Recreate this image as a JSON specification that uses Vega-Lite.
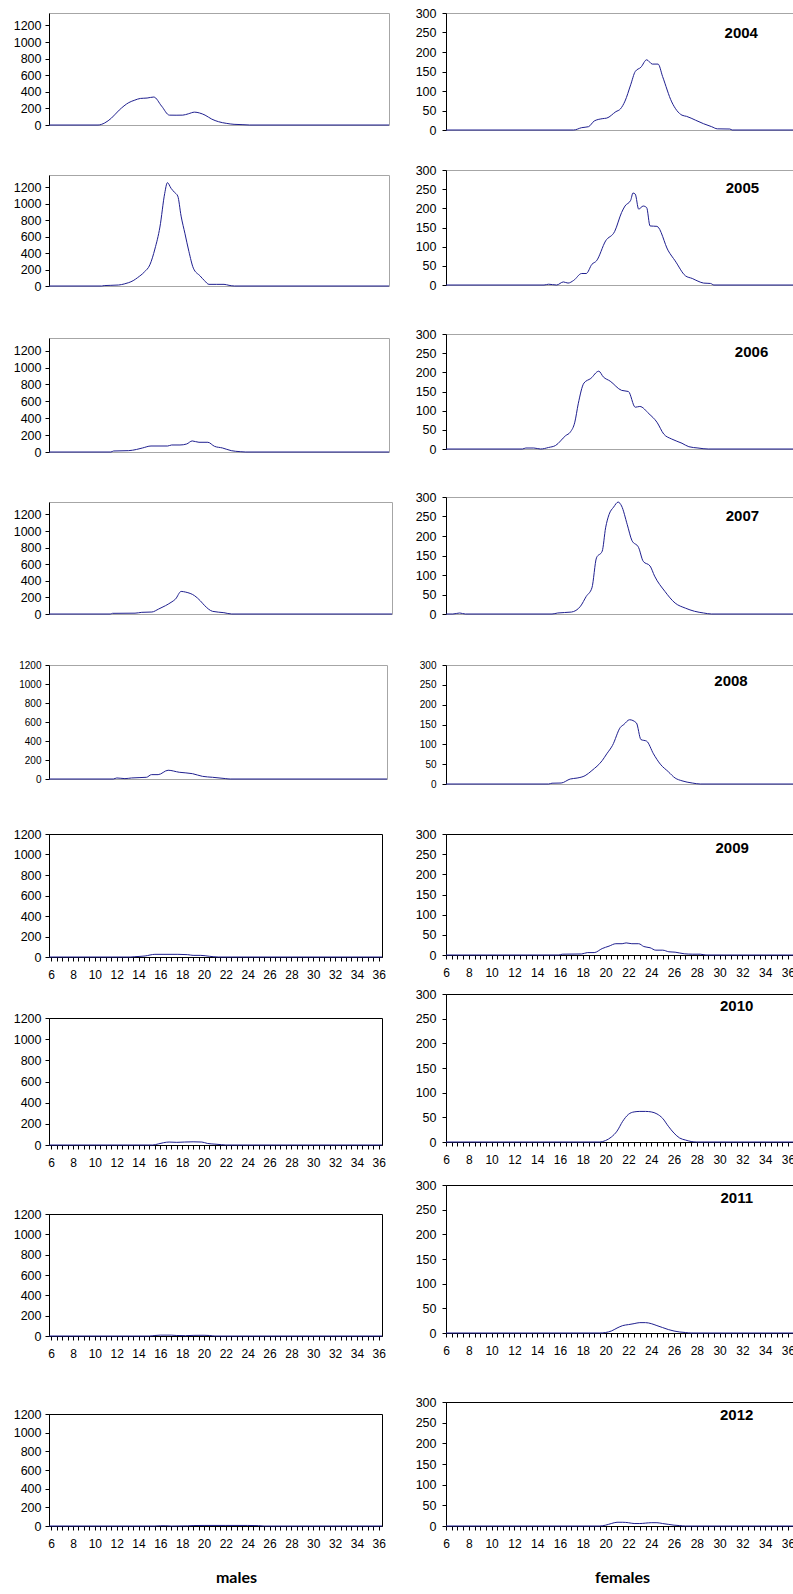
{
"$schema": "https://vega.github.io/schema/vega-lite/v6.json",
"padding": {"left": 12, "top": 6, "right": 0, "bottom": 0},
"autosize": {"type": "pad"},
"background": "white",
"datasets": {
"pts": [
{"s":"m","yr":2004,"x":5.8,"v":0},{"s":"m","yr":2004,"x":10.2,"v":0},{"s":"m","yr":2004,"x":10.8,"v":25},{"s":"m","yr":2004,"x":11.4,"v":83},{"s":"m","yr":2004,"x":12.1,"v":180},{"s":"m","yr":2004,"x":12.96,"v":270},{"s":"m","yr":2004,"x":13.5,"v":300},{"s":"m","yr":2004,"x":14.0,"v":320},{"s":"m","yr":2004,"x":14.6,"v":325},{"s":"m","yr":2004,"x":15.2,"v":337},{"s":"m","yr":2004,"x":15.9,"v":228},{"s":"m","yr":2004,"x":16.6,"v":119},{"s":"m","yr":2004,"x":17.2,"v":118},{"s":"m","yr":2004,"x":17.8,"v":119},{"s":"m","yr":2004,"x":18.3,"v":135},{"s":"m","yr":2004,"x":18.86,"v":155},{"s":"m","yr":2004,"x":19.3,"v":145},{"s":"m","yr":2004,"x":19.8,"v":119},{"s":"m","yr":2004,"x":20.4,"v":71},{"s":"m","yr":2004,"x":21.0,"v":40},{"s":"m","yr":2004,"x":21.7,"v":20},{"s":"m","yr":2004,"x":22.4,"v":8},{"s":"m","yr":2004,"x":23.2,"v":4},{"s":"m","yr":2004,"x":23.8,"v":0},{"s":"m","yr":2004,"x":36.3,"v":0},
{"s":"m","yr":2005,"x":5.8,"v":0},{"s":"m","yr":2005,"x":10.5,"v":0},{"s":"m","yr":2005,"x":10.75,"v":5},{"s":"m","yr":2005,"x":11.35,"v":8},{"s":"m","yr":2005,"x":12.05,"v":12},{"s":"m","yr":2005,"x":12.55,"v":25},{"s":"m","yr":2005,"x":12.95,"v":41},{"s":"m","yr":2005,"x":13.35,"v":65},{"s":"m","yr":2005,"x":13.75,"v":102},{"s":"m","yr":2005,"x":14.35,"v":170},{"s":"m","yr":2005,"x":14.85,"v":258},{"s":"m","yr":2005,"x":15.3,"v":450},{"s":"m","yr":2005,"x":15.75,"v":717},{"s":"m","yr":2005,"x":16.18,"v":1126},{"s":"m","yr":2005,"x":16.42,"v":1257},{"s":"m","yr":2005,"x":16.75,"v":1188},{"s":"m","yr":2005,"x":17.05,"v":1140},{"s":"m","yr":2005,"x":17.35,"v":1094},{"s":"m","yr":2005,"x":17.65,"v":850},{"s":"m","yr":2005,"x":18.0,"v":635},{"s":"m","yr":2005,"x":18.35,"v":420},{"s":"m","yr":2005,"x":18.75,"v":217},{"s":"m","yr":2005,"x":19.35,"v":123},{"s":"m","yr":2005,"x":19.75,"v":65},{"s":"m","yr":2005,"x":20.15,"v":20},{"s":"m","yr":2005,"x":20.85,"v":20},{"s":"m","yr":2005,"x":21.5,"v":20},{"s":"m","yr":2005,"x":21.95,"v":8},{"s":"m","yr":2005,"x":22.45,"v":0},{"s":"m","yr":2005,"x":36.3,"v":0},
{"s":"m","yr":2006,"x":5.8,"v":0},{"s":"m","yr":2006,"x":11.35,"v":0},{"s":"m","yr":2006,"x":11.6,"v":12},{"s":"m","yr":2006,"x":12.95,"v":16},{"s":"m","yr":2006,"x":13.65,"v":30},{"s":"m","yr":2006,"x":14.2,"v":48},{"s":"m","yr":2006,"x":14.95,"v":71},{"s":"m","yr":2006,"x":16.45,"v":71},{"s":"m","yr":2006,"x":16.8,"v":83},{"s":"m","yr":2006,"x":17.55,"v":83},{"s":"m","yr":2006,"x":18.15,"v":95},{"s":"m","yr":2006,"x":18.65,"v":131},{"s":"m","yr":2006,"x":19.25,"v":115},{"s":"m","yr":2006,"x":20.05,"v":115},{"s":"m","yr":2006,"x":20.65,"v":67},{"s":"m","yr":2006,"x":21.35,"v":48},{"s":"m","yr":2006,"x":22.15,"v":16},{"s":"m","yr":2006,"x":22.95,"v":4},{"s":"m","yr":2006,"x":23.45,"v":0},{"s":"m","yr":2006,"x":36.3,"v":0},
{"s":"m","yr":2007,"x":5.8,"v":0},{"s":"m","yr":2007,"x":11.25,"v":0},{"s":"m","yr":2007,"x":11.45,"v":8},{"s":"m","yr":2007,"x":13.45,"v":10},{"s":"m","yr":2007,"x":14.05,"v":20},{"s":"m","yr":2007,"x":14.95,"v":24},{"s":"m","yr":2007,"x":15.55,"v":60},{"s":"m","yr":2007,"x":16.15,"v":100},{"s":"m","yr":2007,"x":16.65,"v":140},{"s":"m","yr":2007,"x":17.05,"v":180},{"s":"m","yr":2007,"x":17.55,"v":272},{"s":"m","yr":2007,"x":17.95,"v":264},{"s":"m","yr":2007,"x":18.75,"v":220},{"s":"m","yr":2007,"x":19.25,"v":160},{"s":"m","yr":2007,"x":19.65,"v":100},{"s":"m","yr":2007,"x":20.35,"v":32},{"s":"m","yr":2007,"x":21.35,"v":16},{"s":"m","yr":2007,"x":22.05,"v":0},{"s":"m","yr":2007,"x":36.3,"v":0},
{"s":"m","yr":2008,"x":5.8,"v":0},{"s":"m","yr":2008,"x":11.6,"v":0},{"s":"m","yr":2008,"x":11.92,"v":11},{"s":"m","yr":2008,"x":12.65,"v":4},{"s":"m","yr":2008,"x":13.25,"v":11},{"s":"m","yr":2008,"x":14.6,"v":18},{"s":"m","yr":2008,"x":15.05,"v":46},{"s":"m","yr":2008,"x":15.65,"v":46},{"s":"m","yr":2008,"x":16.55,"v":92},{"s":"m","yr":2008,"x":17.55,"v":71},{"s":"m","yr":2008,"x":18.75,"v":56},{"s":"m","yr":2008,"x":19.65,"v":28},{"s":"m","yr":2008,"x":20.55,"v":18},{"s":"m","yr":2008,"x":21.75,"v":4},{"s":"m","yr":2008,"x":22.15,"v":0},{"s":"m","yr":2008,"x":36.3,"v":0},
{"s":"m","yr":2009,"x":5.8,"v":0},{"s":"m","yr":2009,"x":13.3,"v":0},{"s":"m","yr":2009,"x":13.66,"v":3},{"s":"m","yr":2009,"x":14.6,"v":10},{"s":"m","yr":2009,"x":15.5,"v":26},{"s":"m","yr":2009,"x":17.6,"v":26},{"s":"m","yr":2009,"x":18.5,"v":23},{"s":"m","yr":2009,"x":19.0,"v":16},{"s":"m","yr":2009,"x":19.7,"v":16},{"s":"m","yr":2009,"x":20.5,"v":7},{"s":"m","yr":2009,"x":21.3,"v":0},{"s":"m","yr":2009,"x":36.3,"v":0},
{"s":"m","yr":2010,"x":5.8,"v":0},{"s":"m","yr":2010,"x":15.3,"v":0},{"s":"m","yr":2010,"x":15.8,"v":10},{"s":"m","yr":2010,"x":16.3,"v":22},{"s":"m","yr":2010,"x":16.8,"v":28},{"s":"m","yr":2010,"x":17.5,"v":25},{"s":"m","yr":2010,"x":18.2,"v":28},{"s":"m","yr":2010,"x":19.0,"v":30},{"s":"m","yr":2010,"x":19.8,"v":28},{"s":"m","yr":2010,"x":20.3,"v":15},{"s":"m","yr":2010,"x":21.0,"v":8},{"s":"m","yr":2010,"x":21.6,"v":3},{"s":"m","yr":2010,"x":22.0,"v":0},{"s":"m","yr":2010,"x":36.3,"v":0},
{"s":"m","yr":2011,"x":5.8,"v":0},{"s":"m","yr":2011,"x":15.0,"v":0},{"s":"m","yr":2011,"x":15.5,"v":5},{"s":"m","yr":2011,"x":16.0,"v":8},{"s":"m","yr":2011,"x":17.0,"v":8},{"s":"m","yr":2011,"x":17.5,"v":5},{"s":"m","yr":2011,"x":18.3,"v":3},{"s":"m","yr":2011,"x":19.0,"v":6},{"s":"m","yr":2011,"x":20.0,"v":7},{"s":"m","yr":2011,"x":20.5,"v":5},{"s":"m","yr":2011,"x":21.0,"v":0},{"s":"m","yr":2011,"x":36.3,"v":0},
{"s":"m","yr":2012,"x":5.8,"v":0},{"s":"m","yr":2012,"x":15.5,"v":0},{"s":"m","yr":2012,"x":16.0,"v":3},{"s":"m","yr":2012,"x":16.5,"v":3},{"s":"m","yr":2012,"x":17.0,"v":0},{"s":"m","yr":2012,"x":18.5,"v":2},{"s":"m","yr":2012,"x":19.0,"v":5},{"s":"m","yr":2012,"x":20.0,"v":6},{"s":"m","yr":2012,"x":22.0,"v":6},{"s":"m","yr":2012,"x":24.0,"v":6},{"s":"m","yr":2012,"x":25.0,"v":4},{"s":"m","yr":2012,"x":25.5,"v":0},{"s":"m","yr":2012,"x":36.3,"v":0},
{"s":"f","yr":2004,"x":6,"v":0},{"s":"f","yr":2004,"x":17.2,"v":0},{"s":"f","yr":2004,"x":17.9,"v":6},{"s":"f","yr":2004,"x":18.5,"v":8.5},{"s":"f","yr":2004,"x":19.0,"v":23},{"s":"f","yr":2004,"x":19.7,"v":29},{"s":"f","yr":2004,"x":20.1,"v":30.5},{"s":"f","yr":2004,"x":20.9,"v":47},{"s":"f","yr":2004,"x":21.3,"v":54},{"s":"f","yr":2004,"x":21.7,"v":74},{"s":"f","yr":2004,"x":22.2,"v":116},{"s":"f","yr":2004,"x":22.6,"v":150},{"s":"f","yr":2004,"x":23.1,"v":161},{"s":"f","yr":2004,"x":23.6,"v":180},{"s":"f","yr":2004,"x":24.1,"v":169},{"s":"f","yr":2004,"x":24.6,"v":169},{"s":"f","yr":2004,"x":25.0,"v":137},{"s":"f","yr":2004,"x":25.8,"v":72},{"s":"f","yr":2004,"x":26.7,"v":38},{"s":"f","yr":2004,"x":27.1,"v":35},{"s":"f","yr":2004,"x":27.9,"v":25},{"s":"f","yr":2004,"x":28.6,"v":16},{"s":"f","yr":2004,"x":29.3,"v":8.5},{"s":"f","yr":2004,"x":29.8,"v":3},{"s":"f","yr":2004,"x":30.9,"v":2.5},{"s":"f","yr":2004,"x":31.1,"v":0},{"s":"f","yr":2004,"x":36.7,"v":0},
{"s":"f","yr":2005,"x":6,"v":0},{"s":"f","yr":2005,"x":14.6,"v":0},{"s":"f","yr":2005,"x":15.0,"v":2},{"s":"f","yr":2005,"x":15.7,"v":0},{"s":"f","yr":2005,"x":16.3,"v":8},{"s":"f","yr":2005,"x":16.7,"v":5},{"s":"f","yr":2005,"x":17.2,"v":12},{"s":"f","yr":2005,"x":17.9,"v":30},{"s":"f","yr":2005,"x":18.3,"v":30},{"s":"f","yr":2005,"x":18.8,"v":54},{"s":"f","yr":2005,"x":19.2,"v":63},{"s":"f","yr":2005,"x":20.0,"v":115},{"s":"f","yr":2005,"x":20.8,"v":140},{"s":"f","yr":2005,"x":21.4,"v":189},{"s":"f","yr":2005,"x":21.7,"v":206},{"s":"f","yr":2005,"x":22.2,"v":221},{"s":"f","yr":2005,"x":22.4,"v":240},{"s":"f","yr":2005,"x":22.6,"v":237},{"s":"f","yr":2005,"x":22.9,"v":198},{"s":"f","yr":2005,"x":23.3,"v":206},{"s":"f","yr":2005,"x":23.6,"v":202},{"s":"f","yr":2005,"x":23.9,"v":154},{"s":"f","yr":2005,"x":24.5,"v":153},{"s":"f","yr":2005,"x":25.5,"v":89},{"s":"f","yr":2005,"x":26.1,"v":63},{"s":"f","yr":2005,"x":27.0,"v":24},{"s":"f","yr":2005,"x":27.6,"v":17},{"s":"f","yr":2005,"x":28.1,"v":10},{"s":"f","yr":2005,"x":28.6,"v":5},{"s":"f","yr":2005,"x":29.2,"v":4},{"s":"f","yr":2005,"x":29.5,"v":0},{"s":"f","yr":2005,"x":36.7,"v":0},
{"s":"f","yr":2006,"x":6,"v":0},{"s":"f","yr":2006,"x":12.7,"v":0},{"s":"f","yr":2006,"x":13.0,"v":2.6},{"s":"f","yr":2006,"x":13.7,"v":2.6},{"s":"f","yr":2006,"x":14.3,"v":0},{"s":"f","yr":2006,"x":15.0,"v":4},{"s":"f","yr":2006,"x":15.6,"v":9},{"s":"f","yr":2006,"x":16.5,"v":35},{"s":"f","yr":2006,"x":16.9,"v":44},{"s":"f","yr":2006,"x":17.3,"v":70},{"s":"f","yr":2006,"x":17.6,"v":118},{"s":"f","yr":2006,"x":18.1,"v":172},{"s":"f","yr":2006,"x":18.7,"v":184},{"s":"f","yr":2006,"x":19.4,"v":203},{"s":"f","yr":2006,"x":19.8,"v":188},{"s":"f","yr":2006,"x":20.4,"v":177},{"s":"f","yr":2006,"x":21.4,"v":153},{"s":"f","yr":2006,"x":22.0,"v":150},{"s":"f","yr":2006,"x":22.6,"v":109},{"s":"f","yr":2006,"x":23.0,"v":111},{"s":"f","yr":2006,"x":23.8,"v":92},{"s":"f","yr":2006,"x":24.5,"v":70},{"s":"f","yr":2006,"x":25.1,"v":39},{"s":"f","yr":2006,"x":25.8,"v":26},{"s":"f","yr":2006,"x":26.7,"v":15},{"s":"f","yr":2006,"x":27.3,"v":6},{"s":"f","yr":2006,"x":28.1,"v":2.6},{"s":"f","yr":2006,"x":29.0,"v":0},{"s":"f","yr":2006,"x":36.7,"v":0},
{"s":"f","yr":2007,"x":6,"v":0},{"s":"f","yr":2007,"x":6.6,"v":0},{"s":"f","yr":2007,"x":7.2,"v":2.6},{"s":"f","yr":2007,"x":7.7,"v":0},{"s":"f","yr":2007,"x":15.3,"v":0},{"s":"f","yr":2007,"x":15.8,"v":2.6},{"s":"f","yr":2007,"x":17.0,"v":5},{"s":"f","yr":2007,"x":17.8,"v":20},{"s":"f","yr":2007,"x":18.3,"v":45},{"s":"f","yr":2007,"x":18.8,"v":67},{"s":"f","yr":2007,"x":19.2,"v":144},{"s":"f","yr":2007,"x":19.7,"v":161},{"s":"f","yr":2007,"x":20.0,"v":221},{"s":"f","yr":2007,"x":20.3,"v":255},{"s":"f","yr":2007,"x":20.7,"v":274},{"s":"f","yr":2007,"x":21.1,"v":287},{"s":"f","yr":2007,"x":21.4,"v":277},{"s":"f","yr":2007,"x":21.9,"v":229},{"s":"f","yr":2007,"x":22.3,"v":189},{"s":"f","yr":2007,"x":22.9,"v":170},{"s":"f","yr":2007,"x":23.3,"v":135},{"s":"f","yr":2007,"x":23.9,"v":123},{"s":"f","yr":2007,"x":24.3,"v":97},{"s":"f","yr":2007,"x":25.2,"v":58},{"s":"f","yr":2007,"x":26.1,"v":28},{"s":"f","yr":2007,"x":27.0,"v":15},{"s":"f","yr":2007,"x":27.8,"v":7},{"s":"f","yr":2007,"x":28.6,"v":2.6},{"s":"f","yr":2007,"x":29.3,"v":0},{"s":"f","yr":2007,"x":36.7,"v":0},
{"s":"f","yr":2008,"x":6,"v":0},{"s":"f","yr":2008,"x":15.0,"v":0},{"s":"f","yr":2008,"x":15.3,"v":2},{"s":"f","yr":2008,"x":16.1,"v":2.5},{"s":"f","yr":2008,"x":16.9,"v":12.6},{"s":"f","yr":2008,"x":17.5,"v":15},{"s":"f","yr":2008,"x":18.2,"v":21},{"s":"f","yr":2008,"x":18.8,"v":34},{"s":"f","yr":2008,"x":19.7,"v":59},{"s":"f","yr":2008,"x":20.1,"v":76},{"s":"f","yr":2008,"x":20.6,"v":97},{"s":"f","yr":2008,"x":21.3,"v":143},{"s":"f","yr":2008,"x":21.6,"v":150},{"s":"f","yr":2008,"x":22.1,"v":162},{"s":"f","yr":2008,"x":22.7,"v":154},{"s":"f","yr":2008,"x":23.1,"v":112},{"s":"f","yr":2008,"x":23.6,"v":108},{"s":"f","yr":2008,"x":24.2,"v":76},{"s":"f","yr":2008,"x":24.8,"v":50},{"s":"f","yr":2008,"x":25.5,"v":31},{"s":"f","yr":2008,"x":26.1,"v":15},{"s":"f","yr":2008,"x":26.7,"v":8},{"s":"f","yr":2008,"x":27.6,"v":2.5},{"s":"f","yr":2008,"x":28.3,"v":0},{"s":"f","yr":2008,"x":36.7,"v":0},
{"s":"f","yr":2009,"x":6,"v":0},{"s":"f","yr":2009,"x":15.9,"v":0},{"s":"f","yr":2009,"x":16.2,"v":2},{"s":"f","yr":2009,"x":17.9,"v":2.5},{"s":"f","yr":2009,"x":18.4,"v":6},{"s":"f","yr":2009,"x":19.0,"v":6},{"s":"f","yr":2009,"x":19.7,"v":16},{"s":"f","yr":2009,"x":20.3,"v":22},{"s":"f","yr":2009,"x":20.9,"v":28},{"s":"f","yr":2009,"x":21.45,"v":28},{"s":"f","yr":2009,"x":21.8,"v":30},{"s":"f","yr":2009,"x":22.3,"v":28},{"s":"f","yr":2009,"x":22.9,"v":28},{"s":"f","yr":2009,"x":23.35,"v":21},{"s":"f","yr":2009,"x":23.9,"v":18},{"s":"f","yr":2009,"x":24.4,"v":12},{"s":"f","yr":2009,"x":25.0,"v":12},{"s":"f","yr":2009,"x":25.55,"v":8},{"s":"f","yr":2009,"x":26.1,"v":7},{"s":"f","yr":2009,"x":26.9,"v":3},{"s":"f","yr":2009,"x":27.6,"v":2},{"s":"f","yr":2009,"x":28.3,"v":2},{"s":"f","yr":2009,"x":28.8,"v":0},{"s":"f","yr":2009,"x":36.7,"v":0},
{"s":"f","yr":2010,"x":6,"v":0},{"s":"f","yr":2010,"x":19.5,"v":0},{"s":"f","yr":2010,"x":20.0,"v":3},{"s":"f","yr":2010,"x":20.5,"v":10},{"s":"f","yr":2010,"x":21.0,"v":22},{"s":"f","yr":2010,"x":21.5,"v":42},{"s":"f","yr":2010,"x":22.0,"v":56},{"s":"f","yr":2010,"x":22.5,"v":61},{"s":"f","yr":2010,"x":23.0,"v":62},{"s":"f","yr":2010,"x":23.5,"v":62},{"s":"f","yr":2010,"x":24.0,"v":61},{"s":"f","yr":2010,"x":24.5,"v":57},{"s":"f","yr":2010,"x":25.0,"v":48},{"s":"f","yr":2010,"x":25.5,"v":32},{"s":"f","yr":2010,"x":26.0,"v":18},{"s":"f","yr":2010,"x":26.5,"v":8},{"s":"f","yr":2010,"x":27.0,"v":4},{"s":"f","yr":2010,"x":27.5,"v":1},{"s":"f","yr":2010,"x":28.0,"v":0},{"s":"f","yr":2010,"x":36.7,"v":0},
{"s":"f","yr":2011,"x":6,"v":0},{"s":"f","yr":2011,"x":19.5,"v":0},{"s":"f","yr":2011,"x":20.0,"v":1},{"s":"f","yr":2011,"x":20.5,"v":4},{"s":"f","yr":2011,"x":21.0,"v":10},{"s":"f","yr":2011,"x":21.5,"v":15},{"s":"f","yr":2011,"x":22.0,"v":17},{"s":"f","yr":2011,"x":22.5,"v":19},{"s":"f","yr":2011,"x":23.0,"v":21},{"s":"f","yr":2011,"x":23.5,"v":21},{"s":"f","yr":2011,"x":24.0,"v":19},{"s":"f","yr":2011,"x":24.5,"v":15},{"s":"f","yr":2011,"x":25.0,"v":11},{"s":"f","yr":2011,"x":25.5,"v":7},{"s":"f","yr":2011,"x":26.0,"v":4},{"s":"f","yr":2011,"x":26.5,"v":2},{"s":"f","yr":2011,"x":27.0,"v":1},{"s":"f","yr":2011,"x":27.5,"v":0},{"s":"f","yr":2011,"x":36.7,"v":0},
{"s":"f","yr":2012,"x":6,"v":0},{"s":"f","yr":2012,"x":19.5,"v":0},{"s":"f","yr":2012,"x":20.0,"v":2},{"s":"f","yr":2012,"x":20.5,"v":6},{"s":"f","yr":2012,"x":21.0,"v":9},{"s":"f","yr":2012,"x":21.5,"v":9},{"s":"f","yr":2012,"x":22.0,"v":8},{"s":"f","yr":2012,"x":22.5,"v":6},{"s":"f","yr":2012,"x":23.0,"v":6},{"s":"f","yr":2012,"x":23.5,"v":7},{"s":"f","yr":2012,"x":24.0,"v":8},{"s":"f","yr":2012,"x":24.5,"v":8},{"s":"f","yr":2012,"x":25.0,"v":6},{"s":"f","yr":2012,"x":25.5,"v":4},{"s":"f","yr":2012,"x":26.0,"v":2},{"s":"f","yr":2012,"x":26.5,"v":1},{"s":"f","yr":2012,"x":27.0,"v":0},{"s":"f","yr":2012,"x":36.7,"v":0}
]
},
"data": {"name": "pts"},
"spacing": 19,
"hconcat": [
{"bounds": "flush", "spacing": 0, "vconcat": [
{"width": 340, "height": 112, "view": {"stroke": "#a6a6a6"}, "transform": [{"filter": "datum.s === 'm' && datum.yr === 2004"}],
 "mark": {"type": "line", "color": "#1f1f8f", "strokeWidth": 1, "interpolate": "monotone"},
 "encoding": {"x": {"field": "x", "type": "quantitative", "scale": {"domain": [5.8, 36.3], "nice": false, "zero": false}, "axis": null},
  "y": {"field": "v", "type": "quantitative", "scale": {"domain": [0, 1350], "nice": false}, "axis": {"values": [0,200,400,600,800,1000,1200], "format": "d", "title": null, "labelFontSize": 12.5, "labelPadding": 4}}}},
{"width": 10, "height": 50, "view": {"stroke": null}, "transform": [{"filter": "false"}], "mark": "point", "encoding": {}},
{"width": 340, "height": 111, "view": {"stroke": "#a6a6a6"}, "transform": [{"filter": "datum.s === 'm' && datum.yr === 2005"}],
 "mark": {"type": "line", "color": "#1f1f8f", "strokeWidth": 1, "interpolate": "monotone"},
 "encoding": {"x": {"field": "x", "type": "quantitative", "scale": {"domain": [5.8, 36.3], "nice": false, "zero": false}, "axis": null},
  "y": {"field": "v", "type": "quantitative", "scale": {"domain": [0, 1350], "nice": false}, "axis": {"values": [0,200,400,600,800,1000,1200], "format": "d", "title": null, "labelFontSize": 12.5, "labelPadding": 4}}}},
{"width": 10, "height": 52, "view": {"stroke": null}, "transform": [{"filter": "false"}], "mark": "point", "encoding": {}},
{"width": 340, "height": 114, "view": {"stroke": "#a6a6a6"}, "transform": [{"filter": "datum.s === 'm' && datum.yr === 2006"}],
 "mark": {"type": "line", "color": "#1f1f8f", "strokeWidth": 1, "interpolate": "monotone"},
 "encoding": {"x": {"field": "x", "type": "quantitative", "scale": {"domain": [5.8, 36.3], "nice": false, "zero": false}, "axis": null},
  "y": {"field": "v", "type": "quantitative", "scale": {"domain": [0, 1350], "nice": false}, "axis": {"values": [0,200,400,600,800,1000,1200], "format": "d", "title": null, "labelFontSize": 12.5, "labelPadding": 4}}}},
{"width": 10, "height": 50, "view": {"stroke": null}, "transform": [{"filter": "false"}], "mark": "point", "encoding": {}},
{"width": 343, "height": 112, "view": {"stroke": "#a6a6a6"}, "transform": [{"filter": "datum.s === 'm' && datum.yr === 2007"}],
 "mark": {"type": "line", "color": "#1f1f8f", "strokeWidth": 1, "interpolate": "monotone"},
 "encoding": {"x": {"field": "x", "type": "quantitative", "scale": {"domain": [5.8, 36.3], "nice": false, "zero": false}, "axis": null},
  "y": {"field": "v", "type": "quantitative", "scale": {"domain": [0, 1350], "nice": false}, "axis": {"values": [0,200,400,600,800,1000,1200], "format": "d", "title": null, "labelFontSize": 12.5, "labelPadding": 4}}}},
{"width": 10, "height": 51, "view": {"stroke": null}, "transform": [{"filter": "false"}], "mark": "point", "encoding": {}},
{"width": 338, "height": 114, "view": {"stroke": "#a6a6a6"}, "transform": [{"filter": "datum.s === 'm' && datum.yr === 2008"}],
 "mark": {"type": "line", "color": "#1f1f8f", "strokeWidth": 1, "interpolate": "monotone"},
 "encoding": {"x": {"field": "x", "type": "quantitative", "scale": {"domain": [5.8, 36.3], "nice": false, "zero": false}, "axis": null},
  "y": {"field": "v", "type": "quantitative", "scale": {"domain": [0, 1200], "nice": false}, "axis": {"values": [0,200,400,600,800,1000,1200], "format": "d", "title": null, "labelFontSize": 10, "labelPadding": 4}}}},
{"width": 10, "height": 55, "view": {"stroke": null}, "transform": [{"filter": "false"}], "mark": "point", "encoding": {}},
{"width": 333, "height": 123, "view": {"stroke": "#000"}, "transform": [{"filter": "datum.s === 'm' && datum.yr === 2009"}],
 "mark": {"type": "line", "color": "#1f1f8f", "strokeWidth": 1, "interpolate": "monotone"},
 "encoding": {"x": {"field": "x", "type": "quantitative", "scale": {"domain": [5.8, 36.3], "nice": false, "zero": false}, "axis": {"values": [6,6.5,7,7.5,8,8.5,9,9.5,10,10.5,11,11.5,12,12.5,13,13.5,14,14.5,15,15.5,16,16.5,17,17.5,18,18.5,19,19.5,20,20.5,21,21.5,22,22.5,23,23.5,24,24.5,25,25.5,26,26.5,27,27.5,28,28.5,29,29.5,30,30.5,31,31.5,32,32.5,33,33.5,34,34.5,35,35.5,36], "labelExpr": "datum.value % 2 === 0 ? '' + datum.value : ''", "labelOverlap": false, "labelFlush": false, "labelFontSize": 12, "labelPadding": 8, "title": null}},
  "y": {"field": "v", "type": "quantitative", "scale": {"domain": [0, 1200], "nice": false}, "axis": {"values": [0,200,400,600,800,1000,1200], "format": "d", "title": null, "labelFontSize": 12.5, "labelPadding": 4}}}},
{"width": 10, "height": 61, "view": {"stroke": null}, "transform": [{"filter": "false"}], "mark": "point", "encoding": {}},
{"width": 333, "height": 127, "view": {"stroke": "#000"}, "transform": [{"filter": "datum.s === 'm' && datum.yr === 2010"}],
 "mark": {"type": "line", "color": "#1f1f8f", "strokeWidth": 1, "interpolate": "monotone"},
 "encoding": {"x": {"field": "x", "type": "quantitative", "scale": {"domain": [5.8, 36.3], "nice": false, "zero": false}, "axis": {"values": [6,6.5,7,7.5,8,8.5,9,9.5,10,10.5,11,11.5,12,12.5,13,13.5,14,14.5,15,15.5,16,16.5,17,17.5,18,18.5,19,19.5,20,20.5,21,21.5,22,22.5,23,23.5,24,24.5,25,25.5,26,26.5,27,27.5,28,28.5,29,29.5,30,30.5,31,31.5,32,32.5,33,33.5,34,34.5,35,35.5,36], "labelExpr": "datum.value % 2 === 0 ? '' + datum.value : ''", "labelOverlap": false, "labelFlush": false, "labelFontSize": 12, "labelPadding": 8, "title": null}},
  "y": {"field": "v", "type": "quantitative", "scale": {"domain": [0, 1200], "nice": false}, "axis": {"values": [0,200,400,600,800,1000,1200], "format": "d", "title": null, "labelFontSize": 12.5, "labelPadding": 4}}}},
{"width": 10, "height": 69, "view": {"stroke": null}, "transform": [{"filter": "false"}], "mark": "point", "encoding": {}},
{"width": 333, "height": 122, "view": {"stroke": "#000"}, "transform": [{"filter": "datum.s === 'm' && datum.yr === 2011"}],
 "mark": {"type": "line", "color": "#1f1f8f", "strokeWidth": 1, "interpolate": "monotone"},
 "encoding": {"x": {"field": "x", "type": "quantitative", "scale": {"domain": [5.8, 36.3], "nice": false, "zero": false}, "axis": {"values": [6,6.5,7,7.5,8,8.5,9,9.5,10,10.5,11,11.5,12,12.5,13,13.5,14,14.5,15,15.5,16,16.5,17,17.5,18,18.5,19,19.5,20,20.5,21,21.5,22,22.5,23,23.5,24,24.5,25,25.5,26,26.5,27,27.5,28,28.5,29,29.5,30,30.5,31,31.5,32,32.5,33,33.5,34,34.5,35,35.5,36], "labelExpr": "datum.value % 2 === 0 ? '' + datum.value : ''", "labelOverlap": false, "labelFlush": false, "labelFontSize": 12, "labelPadding": 8, "title": null}},
  "y": {"field": "v", "type": "quantitative", "scale": {"domain": [0, 1200], "nice": false}, "axis": {"values": [0,200,400,600,800,1000,1200], "format": "d", "title": null, "labelFontSize": 12.5, "labelPadding": 4}}}},
{"width": 10, "height": 78, "view": {"stroke": null}, "transform": [{"filter": "false"}], "mark": "point", "encoding": {}},
{"width": 333, "height": 112, "view": {"stroke": "#000"}, "transform": [{"filter": "datum.s === 'm' && datum.yr === 2012"}],
 "mark": {"type": "line", "color": "#1f1f8f", "strokeWidth": 1, "interpolate": "monotone"},
 "encoding": {"x": {"field": "x", "type": "quantitative", "scale": {"domain": [5.8, 36.3], "nice": false, "zero": false}, "axis": {"values": [6,6.5,7,7.5,8,8.5,9,9.5,10,10.5,11,11.5,12,12.5,13,13.5,14,14.5,15,15.5,16,16.5,17,17.5,18,18.5,19,19.5,20,20.5,21,21.5,22,22.5,23,23.5,24,24.5,25,25.5,26,26.5,27,27.5,28,28.5,29,29.5,30,30.5,31,31.5,32,32.5,33,33.5,34,34.5,35,35.5,36], "labelExpr": "datum.value % 2 === 0 ? '' + datum.value : ''", "labelOverlap": false, "labelFlush": false, "labelFontSize": 12, "labelPadding": 8, "title": "males", "titleFont": "Lato", "titleFontSize": 16, "titleFontWeight": "bold", "titlePadding": 20, "titleX": 187}},
  "y": {"field": "v", "type": "quantitative", "scale": {"domain": [0, 1200], "nice": false}, "axis": {"values": [0,200,400,600,800,1000,1200], "format": "d", "title": null, "labelFontSize": 12.5, "labelPadding": 4}}}}
]},
{"bounds": "flush", "spacing": 0, "vconcat": [
{"width": 350, "height": 117, "view": {"stroke": "#a6a6a6"}, "transform": [{"filter": "datum.s === 'f' && datum.yr === 2004"}],
 "encoding": {"x": {"field": "x", "type": "quantitative", "scale": {"domain": [6, 36.7], "nice": false, "zero": false}, "axis": null},
  "y": {"field": "v", "type": "quantitative", "scale": {"domain": [0, 300], "nice": false}, "axis": {"values": [0,50,100,150,200,250,300], "title": null, "labelFontSize": 12.5, "labelPadding": 6}}},
 "layer": [{"mark": {"type": "line", "color": "#1f1f8f", "strokeWidth": 1, "interpolate": "monotone"}},
  {"transform": [{"filter": "datum.x === 6"}], "mark": {"type": "text", "font": "Liberation Sans", "fontSize": 15, "fontWeight": "bold", "color": "#000"}, "encoding": {"x": {"datum": 31.9, "type": "quantitative"}, "y": {"datum": 250, "type": "quantitative"}, "text": {"field": "yr", "type": "nominal"}}}]},
{"width": 10, "height": 40, "view": {"stroke": null}, "transform": [{"filter": "false"}], "mark": "point", "encoding": {}},
{"width": 350, "height": 115, "view": {"stroke": "#a6a6a6"}, "transform": [{"filter": "datum.s === 'f' && datum.yr === 2005"}],
 "encoding": {"x": {"field": "x", "type": "quantitative", "scale": {"domain": [6, 36.7], "nice": false, "zero": false}, "axis": null},
  "y": {"field": "v", "type": "quantitative", "scale": {"domain": [0, 300], "nice": false}, "axis": {"values": [0,50,100,150,200,250,300], "title": null, "labelFontSize": 12.5, "labelPadding": 6}}},
 "layer": [{"mark": {"type": "line", "color": "#1f1f8f", "strokeWidth": 1, "interpolate": "monotone"}},
  {"transform": [{"filter": "datum.x === 6"}], "mark": {"type": "text", "font": "Liberation Sans", "fontSize": 15, "fontWeight": "bold", "color": "#000"}, "encoding": {"x": {"datum": 32.0, "type": "quantitative"}, "y": {"datum": 252, "type": "quantitative"}, "text": {"field": "yr", "type": "nominal"}}}]},
{"width": 10, "height": 49, "view": {"stroke": null}, "transform": [{"filter": "false"}], "mark": "point", "encoding": {}},
{"width": 350, "height": 115, "view": {"stroke": "#a6a6a6"}, "transform": [{"filter": "datum.s === 'f' && datum.yr === 2006"}],
 "encoding": {"x": {"field": "x", "type": "quantitative", "scale": {"domain": [6, 36.7], "nice": false, "zero": false}, "axis": null},
  "y": {"field": "v", "type": "quantitative", "scale": {"domain": [0, 300], "nice": false}, "axis": {"values": [0,50,100,150,200,250,300], "title": null, "labelFontSize": 12.5, "labelPadding": 6}}},
 "layer": [{"mark": {"type": "line", "color": "#1f1f8f", "strokeWidth": 1, "interpolate": "monotone"}},
  {"transform": [{"filter": "datum.x === 6"}], "mark": {"type": "text", "font": "Liberation Sans", "fontSize": 15, "fontWeight": "bold", "color": "#000"}, "encoding": {"x": {"datum": 32.8, "type": "quantitative"}, "y": {"datum": 252, "type": "quantitative"}, "text": {"field": "yr", "type": "nominal"}}}]},
{"width": 10, "height": 48, "view": {"stroke": null}, "transform": [{"filter": "false"}], "mark": "point", "encoding": {}},
{"width": 350, "height": 117, "view": {"stroke": "#a6a6a6"}, "transform": [{"filter": "datum.s === 'f' && datum.yr === 2007"}],
 "encoding": {"x": {"field": "x", "type": "quantitative", "scale": {"domain": [6, 36.7], "nice": false, "zero": false}, "axis": null},
  "y": {"field": "v", "type": "quantitative", "scale": {"domain": [0, 300], "nice": false}, "axis": {"values": [0,50,100,150,200,250,300], "title": null, "labelFontSize": 12.5, "labelPadding": 6}}},
 "layer": [{"mark": {"type": "line", "color": "#1f1f8f", "strokeWidth": 1, "interpolate": "monotone"}},
  {"transform": [{"filter": "datum.x === 6"}], "mark": {"type": "text", "font": "Liberation Sans", "fontSize": 15, "fontWeight": "bold", "color": "#000"}, "encoding": {"x": {"datum": 32.0, "type": "quantitative"}, "y": {"datum": 251, "type": "quantitative"}, "text": {"field": "yr", "type": "nominal"}}}]},
{"width": 10, "height": 51, "view": {"stroke": null}, "transform": [{"filter": "false"}], "mark": "point", "encoding": {}},
{"width": 350, "height": 119, "view": {"stroke": "#a6a6a6"}, "transform": [{"filter": "datum.s === 'f' && datum.yr === 2008"}],
 "encoding": {"x": {"field": "x", "type": "quantitative", "scale": {"domain": [6, 36.7], "nice": false, "zero": false}, "axis": null},
  "y": {"field": "v", "type": "quantitative", "scale": {"domain": [0, 300], "nice": false}, "axis": {"values": [0,50,100,150,200,250,300], "title": null, "labelFontSize": 10, "labelPadding": 6}}},
 "layer": [{"mark": {"type": "line", "color": "#1f1f8f", "strokeWidth": 1, "interpolate": "monotone"}},
  {"transform": [{"filter": "datum.x === 6"}], "mark": {"type": "text", "font": "Liberation Sans", "fontSize": 15, "fontWeight": "bold", "color": "#000"}, "encoding": {"x": {"datum": 31.0, "type": "quantitative"}, "y": {"datum": 260, "type": "quantitative"}, "text": {"field": "yr", "type": "nominal"}}}]},
{"width": 10, "height": 50, "view": {"stroke": null}, "transform": [{"filter": "false"}], "mark": "point", "encoding": {}},
{"width": 350, "height": 121, "view": {"stroke": "#000"}, "transform": [{"filter": "datum.s === 'f' && datum.yr === 2009"}],
 "encoding": {"x": {"field": "x", "type": "quantitative", "scale": {"domain": [6, 36.7], "nice": false, "zero": false}, "axis": {"values": [6,6.5,7,7.5,8,8.5,9,9.5,10,10.5,11,11.5,12,12.5,13,13.5,14,14.5,15,15.5,16,16.5,17,17.5,18,18.5,19,19.5,20,20.5,21,21.5,22,22.5,23,23.5,24,24.5,25,25.5,26,26.5,27,27.5,28,28.5,29,29.5,30,30.5,31,31.5,32,32.5,33,33.5,34,34.5,35,35.5,36,36.5], "labelExpr": "datum.value % 2 === 0 ? '' + datum.value : ''", "labelOverlap": false, "labelFlush": false, "labelFontSize": 12, "labelPadding": 8, "title": null}},
  "y": {"field": "v", "type": "quantitative", "scale": {"domain": [0, 300], "nice": false}, "axis": {"values": [0,50,100,150,200,250,300], "title": null, "labelFontSize": 12.5, "labelPadding": 6}}},
 "layer": [{"mark": {"type": "line", "color": "#1f1f8f", "strokeWidth": 1, "interpolate": "monotone"}},
  {"transform": [{"filter": "datum.x === 6"}], "mark": {"type": "text", "font": "Liberation Sans", "fontSize": 15, "fontWeight": "bold", "color": "#000"}, "encoding": {"x": {"datum": 31.1, "type": "quantitative"}, "y": {"datum": 265, "type": "quantitative"}, "text": {"field": "yr", "type": "nominal"}}}]},
{"width": 10, "height": 39, "view": {"stroke": null}, "transform": [{"filter": "false"}], "mark": "point", "encoding": {}},
{"width": 350, "height": 148, "view": {"stroke": "#000"}, "transform": [{"filter": "datum.s === 'f' && datum.yr === 2010"}],
 "encoding": {"x": {"field": "x", "type": "quantitative", "scale": {"domain": [6, 36.7], "nice": false, "zero": false}, "axis": {"values": [6,6.5,7,7.5,8,8.5,9,9.5,10,10.5,11,11.5,12,12.5,13,13.5,14,14.5,15,15.5,16,16.5,17,17.5,18,18.5,19,19.5,20,20.5,21,21.5,22,22.5,23,23.5,24,24.5,25,25.5,26,26.5,27,27.5,28,28.5,29,29.5,30,30.5,31,31.5,32,32.5,33,33.5,34,34.5,35,35.5,36,36.5], "labelExpr": "datum.value % 2 === 0 ? '' + datum.value : ''", "labelOverlap": false, "labelFlush": false, "labelFontSize": 12, "labelPadding": 8, "title": null}},
  "y": {"field": "v", "type": "quantitative", "scale": {"domain": [0, 300], "nice": false}, "axis": {"values": [0,50,100,150,200,250,300], "title": null, "labelFontSize": 12.5, "labelPadding": 6}}},
 "layer": [{"mark": {"type": "line", "color": "#1f1f8f", "strokeWidth": 1, "interpolate": "monotone"}},
  {"transform": [{"filter": "datum.x === 6"}], "mark": {"type": "text", "font": "Liberation Sans", "fontSize": 15, "fontWeight": "bold", "color": "#000"}, "encoding": {"x": {"datum": 31.5, "type": "quantitative"}, "y": {"datum": 275, "type": "quantitative"}, "text": {"field": "yr", "type": "nominal"}}}]},
{"width": 10, "height": 43, "view": {"stroke": null}, "transform": [{"filter": "false"}], "mark": "point", "encoding": {}},
{"width": 350, "height": 148, "view": {"stroke": "#000"}, "transform": [{"filter": "datum.s === 'f' && datum.yr === 2011"}],
 "encoding": {"x": {"field": "x", "type": "quantitative", "scale": {"domain": [6, 36.7], "nice": false, "zero": false}, "axis": {"values": [6,6.5,7,7.5,8,8.5,9,9.5,10,10.5,11,11.5,12,12.5,13,13.5,14,14.5,15,15.5,16,16.5,17,17.5,18,18.5,19,19.5,20,20.5,21,21.5,22,22.5,23,23.5,24,24.5,25,25.5,26,26.5,27,27.5,28,28.5,29,29.5,30,30.5,31,31.5,32,32.5,33,33.5,34,34.5,35,35.5,36,36.5], "labelExpr": "datum.value % 2 === 0 ? '' + datum.value : ''", "labelOverlap": false, "labelFlush": false, "labelFontSize": 12, "labelPadding": 8, "title": null}},
  "y": {"field": "v", "type": "quantitative", "scale": {"domain": [0, 300], "nice": false}, "axis": {"values": [0,50,100,150,200,250,300], "title": null, "labelFontSize": 12.5, "labelPadding": 6}}},
 "layer": [{"mark": {"type": "line", "color": "#1f1f8f", "strokeWidth": 1, "interpolate": "monotone"}},
  {"transform": [{"filter": "datum.x === 6"}], "mark": {"type": "text", "font": "Liberation Sans", "fontSize": 15, "fontWeight": "bold", "color": "#000"}, "encoding": {"x": {"datum": 31.5, "type": "quantitative"}, "y": {"datum": 274, "type": "quantitative"}, "text": {"field": "yr", "type": "nominal"}}}]},
{"width": 10, "height": 69, "view": {"stroke": null}, "transform": [{"filter": "false"}], "mark": "point", "encoding": {}},
{"width": 350, "height": 124, "view": {"stroke": "#000"}, "transform": [{"filter": "datum.s === 'f' && datum.yr === 2012"}],
 "encoding": {"x": {"field": "x", "type": "quantitative", "scale": {"domain": [6, 36.7], "nice": false, "zero": false}, "axis": {"values": [6,6.5,7,7.5,8,8.5,9,9.5,10,10.5,11,11.5,12,12.5,13,13.5,14,14.5,15,15.5,16,16.5,17,17.5,18,18.5,19,19.5,20,20.5,21,21.5,22,22.5,23,23.5,24,24.5,25,25.5,26,26.5,27,27.5,28,28.5,29,29.5,30,30.5,31,31.5,32,32.5,33,33.5,34,34.5,35,35.5,36,36.5], "labelExpr": "datum.value % 2 === 0 ? '' + datum.value : ''", "labelOverlap": false, "labelFlush": false, "labelFontSize": 12, "labelPadding": 8, "title": "females", "titleFont": "Lato", "titleFontSize": 16, "titleFontWeight": "bold", "titlePadding": 20, "titleX": 176}},
  "y": {"field": "v", "type": "quantitative", "scale": {"domain": [0, 300], "nice": false}, "axis": {"values": [0,50,100,150,200,250,300], "title": null, "labelFontSize": 12.5, "labelPadding": 6}}},
 "layer": [{"mark": {"type": "line", "color": "#1f1f8f", "strokeWidth": 1, "interpolate": "monotone"}},
  {"transform": [{"filter": "datum.x === 6"}], "mark": {"type": "text", "font": "Liberation Sans", "fontSize": 15, "fontWeight": "bold", "color": "#000"}, "encoding": {"x": {"datum": 31.5, "type": "quantitative"}, "y": {"datum": 268, "type": "quantitative"}, "text": {"field": "yr", "type": "nominal"}}}]}
]}
],
"config": {
 "font": "Liberation Sans",
 "view": {"stroke": "#a6a6a6"},
 "axis": {"labelFont": "Liberation Sans", "labelColor": "#000", "domainColor": "#000", "tickColor": "#000", "grid": false, "tickSize": 4, "titleColor": "#000"}
}
}
